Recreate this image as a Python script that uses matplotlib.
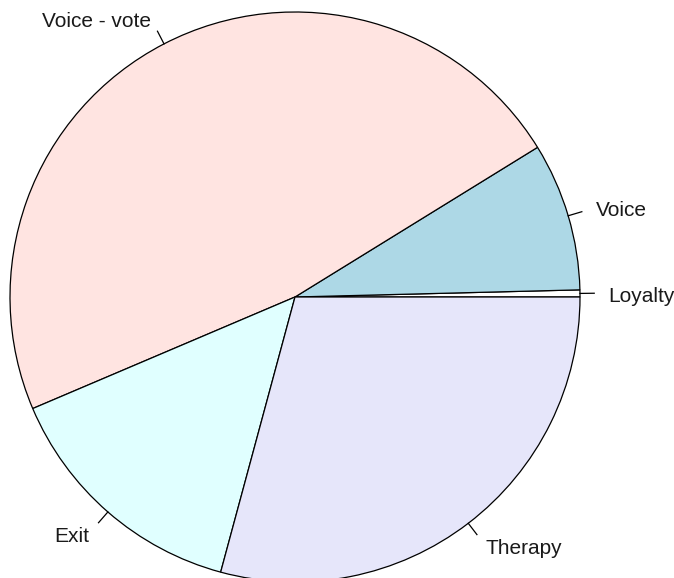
import numpy as np
import matplotlib
matplotlib.use("Agg")
import matplotlib.pyplot as plt

# slices in R's counter-clockwise order starting at 3 o'clock
labels = ["Loyalty", "Voice", "Voice - vote", "Exit", "Therapy"]
counts = [1, 21, 119, 36, 73]
colors = ["white", "lightblue", "mistyrose", "lightcyan", "lavender"]

W, H = 674, 578
fig = plt.figure(figsize=(W / 100, H / 100), dpi=100)
ax = fig.add_axes([0, 0, 1, 1])

cx, cy, r = 295, H - 297, 285

ax.pie(counts, colors=colors, startangle=0, counterclock=True,
       radius=r, center=(cx, cy), frame=True,
       wedgeprops=dict(edgecolor="black", linewidth=0.9))
ax.set_xlim(0, W)
ax.set_ylim(0, H)
ax.set_aspect("equal")
ax.axis("off")

# labels and little tick marks like R's pie()
frac = np.array(counts) / sum(counts)
mids = (np.cumsum(frac) - frac / 2) * 2 * np.pi
for lab, a in zip(labels, mids):
    c, s = np.cos(a), np.sin(a)
    ax.plot([cx + r * c, cx + 1.05 * r * c], [cy + r * s, cy + 1.05 * r * s],
            color="black", linewidth=0.9)
    ax.text(cx + 1.1 * r * c, cy + 1.1 * r * s - 3, lab,
            ha="left" if c > 0 else "right", va="center",
            fontsize=15, family="Liberation Sans", color="#1a1a1a")

fig.savefig("out.png", dpi=100)
